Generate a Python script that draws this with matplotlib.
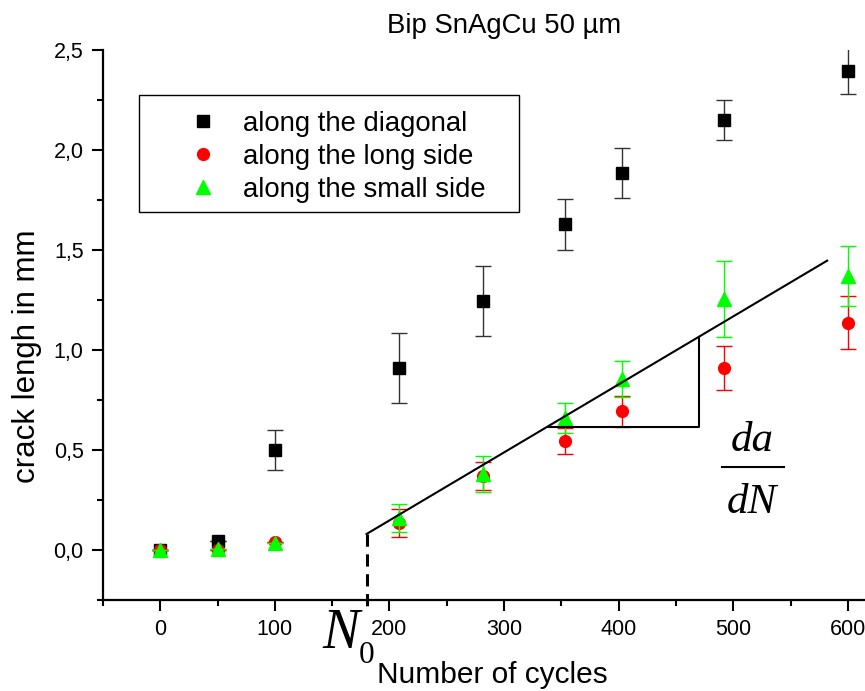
import matplotlib
matplotlib.use("Agg")
import matplotlib.pyplot as plt
from matplotlib.lines import Line2D
from matplotlib.patches import Rectangle
from matplotlib.ticker import FixedLocator, FixedFormatter

# Measurements: crack length (mm) versus number of thermal cycles
cycles = [0, 50, 100, 208, 282, 353, 403, 492, 600]
diagonal = [0.0, 0.045, 0.50, 0.91, 1.245, 1.628, 1.885, 2.148, 2.395]
diagonal_err = [0, 0, 0.10, 0.175, 0.175, 0.128, 0.127, 0.10, 0.115]
long_side = [0.0, 0.0, 0.04, 0.136, 0.368, 0.545, 0.693, 0.91, 1.137]
long_side_err = [0, 0, 0, 0.07, 0.07, 0.063, 0.077, 0.11, 0.133]
small_side = [0.0, 0.005, 0.035, 0.16, 0.38, 0.66, 0.855, 1.255, 1.37]
small_side_err = [0, 0, 0, 0.068, 0.09, 0.077, 0.088, 0.19, 0.15]

series_labels = ["along the diagonal", "along the long side", "along the small side"]
y_ticks = [0.0, 0.5, 1.0, 1.5, 2.0, 2.5]
y_tick_labels = ["0,0", "0,5", "1,0", "1,5", "2,0", "2,5"]
x_ticks = [0, 100, 200, 300, 400, 500, 600]

# Linear growth construction: initiation N0 and slope da/dN
n0 = 180
a0 = 0.08
growth_rate = 0.0034
fit_end = 582
tri_left, tri_right = 338, 470


def fit(n):
    return a0 + growth_rate * (n - n0)


plt.rcParams["font.family"] = ["Liberation Sans", "DejaVu Sans"]

fig = plt.figure(figsize=(8.65, 6.91), dpi=100)
ax = fig.add_axes([103 / 865, 91 / 691, 762 / 865, 550 / 691])

styles = [
    dict(marker="s", color="black", ecolor="#333333", ms=8),
    dict(marker="o", color="#ff0000", ecolor="#ff0000", ms=8.5),
    dict(marker="^", color="#00ff00", ecolor="#00ff00", ms=9.5),
]
series = [(diagonal, diagonal_err), (long_side, long_side_err),
          (small_side, small_side_err)]

for i, ((vals, errs), st) in enumerate(zip(series, styles)):
    ax.errorbar(cycles, vals, yerr=errs, fmt=st["marker"], color=st["color"],
                ecolor=st["ecolor"], elinewidth=1.0, capsize=6, capthick=1.0,
                markersize=st["ms"], zorder=3 + i)

# fitted line, N0 marker and slope triangle
ax.plot([n0, fit_end], [fit(n0), fit(fit_end)], color="black", lw=1.5, zorder=6)
ax.plot([n0, n0], [fit(n0), -0.315], color="black", lw=2.2,
        dashes=(4, 2.5), clip_on=False, zorder=6)
ax.plot([tri_left, tri_right, tri_right],
        [fit(tri_left), fit(tri_left), fit(tri_right)],
        color="black", lw=1.5, zorder=6)

ax.set_xlim(-50, 615)
ax.set_ylim(-0.25, 2.5)

for side in ("top", "right"):
    ax.spines[side].set_visible(False)
for side in ("left", "bottom"):
    ax.spines[side].set_linewidth(1.6)

ax.xaxis.set_major_locator(FixedLocator(x_ticks))
ax.xaxis.set_minor_locator(FixedLocator([-50, 50, 150, 250, 350, 450, 550]))
ax.yaxis.set_major_locator(FixedLocator(y_ticks))
ax.yaxis.set_major_formatter(FixedFormatter(y_tick_labels))
ax.yaxis.set_minor_locator(FixedLocator([-0.25, 0.25, 0.75, 1.25, 1.75, 2.25]))
ax.tick_params(which="major", direction="out", length=8, width=1.5,
               labelsize=15.5, pad=6)
ax.tick_params(which="minor", direction="out", length=4.5, width=1.5)

# legend: marker-only handles inside a plain rectangular frame
handles = [Line2D([], [], linestyle="none", marker=st["marker"],
                  color=st["color"], markersize=st["ms"]) for st in styles]
ax.add_patch(Rectangle((0.0472, 0.7055), 0.4987, 0.2127, transform=ax.transAxes,
                       fill=True, facecolor="white", edgecolor="black",
                       lw=1.0, zorder=8))
leg = ax.legend(handles, series_labels, loc="center left",
                bbox_to_anchor=(0.1132, 0.8055), fontsize=19.8, frameon=False,
                handlelength=1.0, handletextpad=0.95, borderpad=0.0,
                labelspacing=0.25, borderaxespad=0.0, numpoints=1)
leg.set_zorder(9)

fig.text(504 / 865, 1 - 33 / 691, "Bip SnAgCu 50 µm", fontsize=19.8,
         ha="center", va="baseline")
fig.text(492 / 865, 1 - 683 / 691, "Number of cycles", fontsize=21.5,
         ha="center", va="baseline")
fig.text(27 / 865, 1 - 356 / 691, "crack lengh in mm", fontsize=22.5,
         ha="center", va="center", rotation=90)

serif_it = dict(family="Liberation Serif", style="italic")
fig.text(341 / 865, 1 - 648 / 691, "N", fontsize=40, ha="center",
         va="baseline", **serif_it)
fig.text(367 / 865, 1 - 663 / 691, "0", fontsize=22.5, ha="center",
         va="baseline", family="Liberation Serif")
fig.text(752 / 865, 1 - 451 / 691, "da", fontsize=31, ha="center",
         va="baseline", **serif_it)
fig.text(752 / 865, 1 - 513 / 691, "dN", fontsize=31, ha="center",
         va="baseline", **serif_it)
fig.add_artist(Line2D([722 / 865, 784 / 865], [1 - 467 / 691, 1 - 467 / 691],
                      color="black", lw=1.5, transform=fig.transFigure))

fig.savefig("out.png", dpi=100)
